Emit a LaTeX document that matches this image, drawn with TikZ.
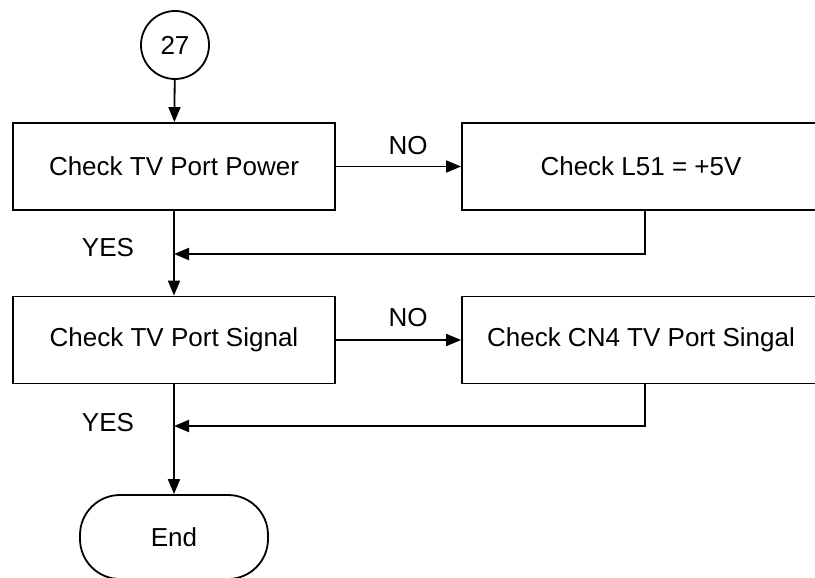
\documentclass[tikz,border=0pt]{standalone}
\usepackage{fontspec}
\setmainfont{Liberation Sans}
\usepackage{tikz}
\usetikzlibrary{arrows.meta}

\tikzset{
    chkbox/.style={draw, line width=1.8pt, minimum height=87pt, inner sep=0pt},
    flowarr/.style={line width=1.8pt, -{Triangle[length=15pt,width=12pt]}},
    lbl/.style={inner sep=0pt},
}

\begin{document}
\begin{tikzpicture}[x=1pt, y=-1pt, font=\fontsize{26}{30}\selectfont]
    \useasboundingbox (0, 0) rectangle (815, 578);
    % connector and boxes
    \node[draw, circle, line width=1.8pt, minimum size=68pt, inner sep=0pt] (start) at (175, 45) {27};
    \node[chkbox, minimum width=322pt] (pwr) at (174, 166.5) {Check TV Port Power};
    \node[chkbox, minimum width=358pt] (pwrfix) at (641, 166.5) {Check L51 = +5V};
    \node[chkbox, minimum width=322pt] (sig) at (174, 340) {Check TV Port Signal};
    \node[chkbox, minimum width=358pt] (sigfix) at (641, 340) {Check CN4 TV Port Singal};
    \node[draw, line width=1.8pt, rounded corners=40pt, minimum width=188pt, minimum height=84pt] (stop) at (174, 537) {End};
    \coordinate (j1) at (174, 254);
    \coordinate (j2) at (174, 426);
    % main flow
    \draw[flowarr] (start) -- (pwr);
    \draw[flowarr] (pwr) -- (sig);
    \draw[flowarr] (sig) -- (stop);
    \draw[flowarr] (pwr) -- (pwrfix);
    \draw[flowarr] (sig) -- (sigfix);
    \draw[flowarr] ([xshift=4pt]pwrfix.south) |- (j1);
    \draw[flowarr] ([xshift=4pt]sigfix.south) |- (j2);
    % labels
    \node[lbl] (no1) at (408, 146) {NO};
    \node[lbl] (no2) at (408, 318) {NO};
    \node[lbl] (yes1) at (108, 248) {YES};
    \node[lbl] (yes2) at (108, 423) {YES};
\end{tikzpicture}
\end{document}
